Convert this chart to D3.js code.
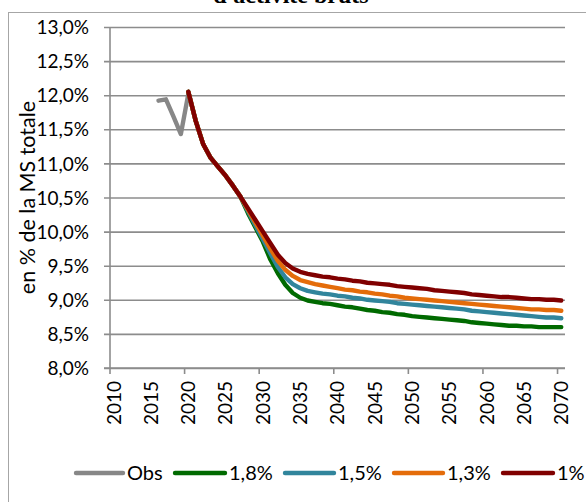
<!DOCTYPE html>
<html>
<head>
<meta charset="utf-8">
<script src="https://cdn.jsdelivr.net/npm/d3@7/dist/d3.min.js"></script>
<style>
  html, body { margin: 0; padding: 0; background: #ffffff; overflow: hidden; }
  svg { display: block; }
  text { font-family: Lato, "Open Sans", sans-serif; fill: #000; }
</style>
</head>
<body>
<svg id="chart" width="586" height="502"></svg>
<script>
// ---------- data ----------
const titleText = "d'activité bruts";
const yAxisTitle = "en % de la MS totale";
const years = d3.range(2010, 2071);            // category axis 2010..2070
const tickYears = [2010, 2015, 2020, 2025, 2030, 2035, 2040, 2045, 2050, 2055, 2060, 2065, 2070];
const yTicks = [8.0, 8.5, 9.0, 9.5, 10.0, 10.5, 11.0, 11.5, 12.0, 12.5, 13.0];

const obsYears = [2016, 2017, 2018, 2019, 2020];
const obsValues = [11.92, 11.94, 11.69, 11.43, 12.02];

const projYears = d3.range(2020, 2071);
const s18 = [12.05, 11.62, 11.28, 11.08, 10.95, 10.82, 10.67, 10.51, 10.27, 10.06,
             9.85, 9.59, 9.39, 9.22, 9.10, 9.03, 8.99, 8.97, 8.95, 8.94,
             8.92, 8.90, 8.89, 8.87, 8.85, 8.84, 8.82, 8.81, 8.79, 8.78,
             8.76, 8.75, 8.74, 8.73, 8.72, 8.71, 8.70, 8.69, 8.67, 8.66,
             8.65, 8.64, 8.63, 8.62, 8.62, 8.61, 8.61, 8.60, 8.60, 8.60, 8.60];
const s15 = [12.05, 11.62, 11.28, 11.08, 10.95, 10.82, 10.67, 10.51, 10.30, 10.09,
             9.89, 9.68, 9.48, 9.33, 9.23, 9.17, 9.13, 9.11, 9.09, 9.08,
             9.06, 9.05, 9.03, 9.02, 9.00, 8.99, 8.98, 8.97, 8.95, 8.94,
             8.93, 8.92, 8.91, 8.90, 8.89, 8.88, 8.87, 8.86, 8.84, 8.83,
             8.82, 8.81, 8.80, 8.79, 8.78, 8.77, 8.76, 8.75, 8.74, 8.74, 8.73];
const s13 = [12.05, 11.62, 11.28, 11.08, 10.95, 10.82, 10.67, 10.51, 10.32, 10.13,
             9.94, 9.75, 9.57, 9.44, 9.35, 9.29, 9.26, 9.23, 9.21, 9.19,
             9.17, 9.15, 9.14, 9.12, 9.11, 9.09, 9.08, 9.06, 9.05, 9.03,
             9.02, 9.01, 9.00, 8.99, 8.98, 8.97, 8.96, 8.95, 8.94, 8.93,
             8.92, 8.91, 8.90, 8.89, 8.88, 8.87, 8.86, 8.86, 8.85, 8.85, 8.84];
const s10 = [12.05, 11.62, 11.28, 11.08, 10.95, 10.82, 10.67, 10.51, 10.34, 10.17,
             10.00, 9.83, 9.66, 9.54, 9.46, 9.41, 9.38, 9.36, 9.34, 9.33,
             9.31, 9.30, 9.28, 9.27, 9.25, 9.24, 9.23, 9.22, 9.20, 9.19,
             9.18, 9.17, 9.16, 9.14, 9.13, 9.12, 9.11, 9.10, 9.08, 9.07,
             9.06, 9.05, 9.04, 9.04, 9.03, 9.02, 9.01, 9.01, 9.00, 9.00, 8.99];

const seriesNames = ["Obs", "1,8%", "1,5%", "1,3%", "1%"];
const seriesColors = ["#878787", "#006a00", "#31859c", "#e46c0a", "#800000"];

// ---------- layout ----------
const svg = d3.select("#chart");
const plot = { left: 110, right: 565, top: 27, bottom: 368 };

const x = d3.scaleBand().domain(years).range([plot.left, plot.right]).paddingInner(0).paddingOuter(0);
const y = d3.scaleLinear().domain([8, 13]).range([plot.bottom, plot.top]);

// chart border (right/bottom off-screen)
svg.append("rect")
  .attr("x", 8.5).attr("y", 12.5).attr("width", 640).attr("height", 560)
  .attr("fill", "none").attr("stroke", "#a6a6a6").attr("stroke-width", 1);

// title (mostly cut off at top, as in the reference)
svg.append("text")
  .attr("x", 291).attr("y", 3)
  .attr("text-anchor", "middle")
  .style("font-family", "'Liberation Serif', serif")
  .style("font-weight", "bold")
  .style("font-size", "24px")
  .text(titleText);

const gridColor = "#8c8c8c";

// gridlines + y ticks
const yAxis = d3.axisLeft(y).tickValues(yTicks)
  .tickSize(-(plot.right - plot.left))
  .tickFormat(d => d3.format(".1f")(d).replace(".", ",") + "%");
const gy = svg.append("g").attr("transform", `translate(${plot.left},0)`).call(yAxis);
gy.select(".domain").remove();
gy.selectAll(".tick line")
  .attr("x1", -6).attr("x2", plot.right - plot.left)
  .attr("stroke", gridColor).attr("stroke-width", 1.6);
gy.selectAll(".tick text")
  .attr("x", -21).attr("dy", "0.35em")
  .style("font-family", "Lato, sans-serif").style("font-size", "19px").attr("fill", "#000");

// y axis line
svg.append("line")
  .attr("x1", plot.left).attr("x2", plot.left)
  .attr("y1", plot.top).attr("y2", plot.bottom)
  .attr("stroke", gridColor).attr("stroke-width", 1.6);

// x axis
const xAxis = d3.axisBottom(x).tickValues(tickYears).tickSize(0).tickFormat(d => String(d));
const gx = svg.append("g").attr("transform", `translate(0,${plot.bottom})`).call(xAxis);
gx.select(".domain").remove();
gx.selectAll(".tick text")
  .attr("transform", "rotate(-90)")
  .attr("x", -13).attr("y", 0).attr("dy", "0.36em")
  .attr("text-anchor", "end")
  .style("font-family", "Lato, sans-serif").style("font-size", "19px").attr("fill", "#000");
svg.append("line")
  .attr("x1", plot.left - 6).attr("x2", plot.right)
  .attr("y1", plot.bottom).attr("y2", plot.bottom)
  .attr("stroke", gridColor).attr("stroke-width", 1.6);
// x tick marks every 10 years at category boundaries
const tenYears = [2010, 2020, 2030, 2040, 2050, 2060, 2070];
svg.append("g").selectAll("line").data(tenYears).join("line")
  .attr("x1", d => x(d)).attr("x2", d => x(d))
  .attr("y1", plot.bottom).attr("y2", plot.bottom + 6)
  .attr("stroke", gridColor).attr("stroke-width", 1.6);

// y axis title
svg.append("text")
  .attr("transform", `translate(35,${(plot.top + plot.bottom) / 2}) rotate(-90)`)
  .attr("text-anchor", "middle")
  .style("font-family", "Lato, sans-serif").style("font-size", "21.5px")
  .text(yAxisTitle);

// ---------- lines ----------
const cx = d => x(d) + x.bandwidth() / 2;
const line = d3.line().x(d => cx(d[0])).y(d => y(d[1]));
const allSeries = [
  obsYears.map((yr, i) => [yr, obsValues[i]]),
  projYears.map((yr, i) => [yr, s18[i]]),
  projYears.map((yr, i) => [yr, s15[i]]),
  projYears.map((yr, i) => [yr, s13[i]]),
  projYears.map((yr, i) => [yr, s10[i]])
];
svg.append("g").selectAll("path").data(allSeries).join("path")
  .attr("d", line)
  .attr("fill", "none")
  .attr("stroke", (d, i) => seriesColors[i])
  .attr("stroke-width", 4.4)
  .attr("stroke-linecap", "round")
  .attr("stroke-linejoin", "round");

// ---------- legend ----------
const legendY = 473;
const legendItems = [
  { x1: 76, x2: 123, tx: 127 },
  { x1: 175, x2: 225, tx: 229 },
  { x1: 285, x2: 334, tx: 338 },
  { x1: 394, x2: 443, tx: 447 },
  { x1: 503, x2: 553, tx: 557 }
];
const lg = svg.append("g");
legendItems.forEach((it, i) => {
  lg.append("line")
    .attr("x1", it.x1).attr("x2", it.x2)
    .attr("y1", legendY).attr("y2", legendY)
    .attr("stroke", seriesColors[i]).attr("stroke-width", 4.4)
    .attr("stroke-linecap", "round");
  lg.append("text")
    .attr("x", it.tx).attr("y", legendY).attr("dy", "0.36em")
    .style("font-family", "Lato, sans-serif").style("font-size", "20px")
    .text(seriesNames[i]);
});
</script>
</body>
</html>
